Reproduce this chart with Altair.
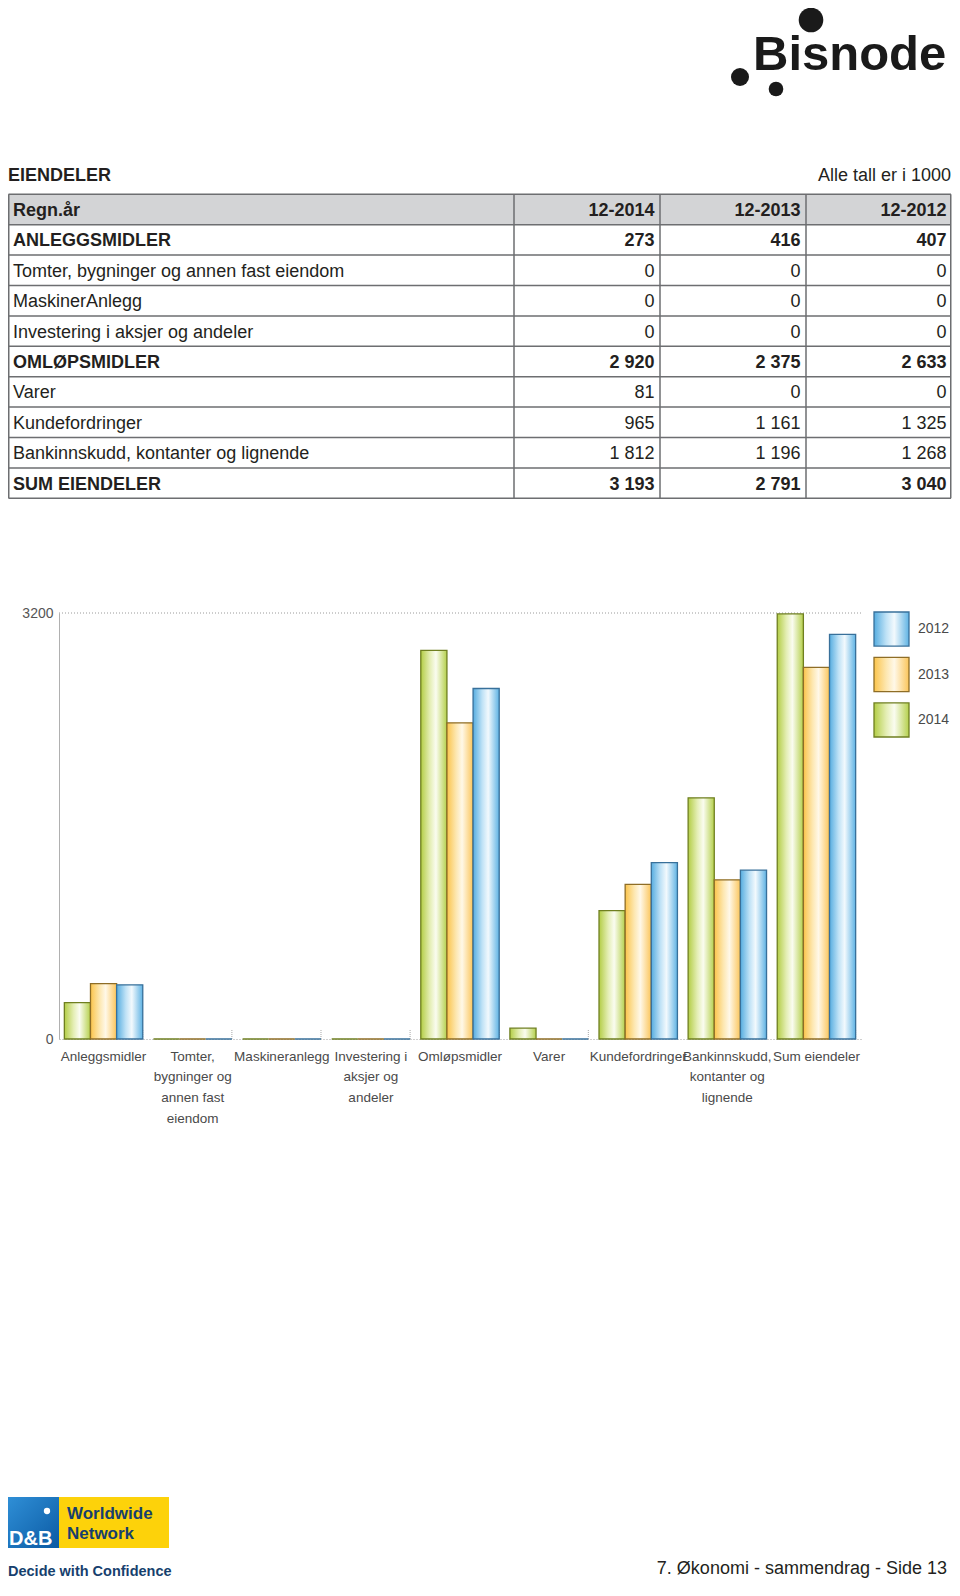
import altair as alt
import pandas as pd

# ---------------- data ----------------
table_labels = ["ANLEGGSMIDLER", "Tomter, bygninger og annen fast eiendom", "MaskinerAnlegg",
                "Investering i aksjer og andeler", "OMLØPSMIDLER", "Varer", "Kundefordringer",
                "Bankinnskudd, kontanter og lignende", "SUM EIENDELER"]
table_bold = [True, False, False, False, True, False, False, False, True]
header_cols = ["12-2014", "12-2013", "12-2012"]
v2014 = [273, 0, 0, 0, 2920, 81, 965, 1812, 3193]
v2013 = [416, 0, 0, 0, 2375, 0, 1161, 1196, 2791]
v2012 = [407, 0, 0, 0, 2633, 0, 1325, 1268, 3040]

chart_cats = ["Anleggsmidler", "Tomter,|bygninger og|annen fast|eiendom", "Maskineranlegg",
              "Investering i|aksjer og|andeler", "Omløpsmidler", "Varer", "Kundefordringer",
              "Bankinnskudd,|kontanter og|lignende", "Sum eiendeler"]
years = ["2014", "2013", "2012"]
legend_years = ["2012", "2013", "2014"]
y_ticks = [0, 3200]

FONT = "Liberation Sans"
W, H = 944, 1572


def fmt(v):
    return f"{v:,}".replace(",", " ")


# ---------------- table ----------------
rows = [{"r": 0, "label": "Regn.år", "bold": True}]
nums = []
for c, h in enumerate(header_cols):
    nums.append({"r": 0, "c": c, "txt": h, "bold": True})
for i, lab in enumerate(table_labels):
    rows.append({"r": i + 1, "label": lab, "bold": table_bold[i]})
    for c, vals in enumerate([v2014, v2013, v2012]):
        nums.append({"r": i + 1, "c": c, "txt": fmt(vals[i]), "bold": table_bold[i]})
df_rows = pd.DataFrame(rows)
df_nums = pd.DataFrame(nums)
df_hlines = pd.DataFrame({"k": list(range(11))})
df_span = pd.DataFrame({"a": [0], "b": [10], "h": [1]})

TY = alt.Scale(domain=[0, 10], range=[186.3, 490.3], nice=False, zero=False)
TX = alt.Scale(domain=[0, 2], range=[646.5, 938.5], nice=False, zero=False)
LINE = "#6d6e71"

hdr_bg = alt.Chart(df_span).mark_rect(color="#d3d4d6").encode(
    x=alt.value(0.5), x2=alt.value(943),
    y=alt.Y("a:Q", scale=TY, axis=None), y2="h:Q")
hlines = alt.Chart(df_hlines).mark_rule(color=LINE, strokeWidth=1.5).encode(
    x=alt.value(0.5), x2=alt.value(943), y=alt.Y("k:Q", scale=TY, axis=None))
vlines = [alt.Chart(df_span).mark_rule(color=LINE, strokeWidth=1.5).encode(
    x=alt.value(px), y=alt.Y("a:Q", scale=TY, axis=None), y2="b:Q")
    for px in [0.75, 506, 652, 798, 942.75]]


def row_text(bold):
    return alt.Chart(df_rows).transform_filter(
        alt.datum.bold == bold).transform_calculate(mid="datum.r + 0.5").mark_text(
        align="left", baseline="alphabetic", dy=6.5, font=FONT, fontSize=18,
        fontWeight="bold" if bold else "normal", color="#231f20").encode(
        x=alt.value(5), y=alt.Y("mid:Q", scale=TY, axis=None), text="label:N")


def num_text(bold):
    return alt.Chart(df_nums).transform_filter(
        alt.datum.bold == bold).transform_calculate(mid="datum.r + 0.5").mark_text(
        align="right", baseline="alphabetic", dy=6.5, font=FONT, fontSize=18,
        fontWeight="bold" if bold else "normal", color="#231f20").encode(
        x=alt.X("c:Q", scale=TX, axis=None), y=alt.Y("mid:Q", scale=TY, axis=None),
        text="txt:N")


table = alt.layer(hdr_bg, row_text(True), row_text(False), num_text(True), num_text(False),
                  hlines, *vlines)

one = pd.DataFrame({"t": ["x"]})
title_l = alt.Chart(pd.DataFrame({"t": ["EIENDELER"]})).mark_text(
    align="left", baseline="alphabetic", font=FONT, fontSize=18, fontWeight="bold",
    color="#231f20").encode(x=alt.value(0), y=alt.value(173), text="t:N")
title_r = alt.Chart(pd.DataFrame({"t": ["Alle tall er i 1000"]})).mark_text(
    align="right", baseline="alphabetic", font=FONT, fontSize=18, color="#231f20").encode(
    x=alt.value(943), y=alt.value(173), text="t:N")

# ---------------- bar chart ----------------
long = []
for i, cat in enumerate(chart_cats):
    for y, vals in zip(years, [v2014, v2013, v2012]):
        long.append({"cat": cat, "year": y, "value": vals[i]})
df_long = pd.DataFrame(long)
df_cats = pd.DataFrame({"cat": chart_cats})

XS = alt.Scale(domain=chart_cats, range=[51, 853], paddingInner=0.12, paddingOuter=0.06)
YS = alt.Scale(domain=[0, 3200], range=[1031, 605], nice=False, zero=True)
XOFF = alt.Scale(domain=years, paddingInner=0, paddingOuter=0)

x_axis = alt.Axis(orient="bottom", offset=-(H - 1031), title=None, ticks=False, tickSize=0,
                  domainColor="#a0a0a0", domainDash=[1, 2], domainWidth=1,
                  labelExpr="split(datum.label, '|')", labelFont=FONT, labelFontSize=13.5,
                  labelColor="#4a4a4a", labelLineHeight=20.7, labelPadding=10,
                  labelOverlap=False, labelAngle=0, labelBaseline="top", labelLimit=300)
y_axis = alt.Axis(orient="left", offset=-51, values=y_ticks, format="d", title=None, grid=False,
                  ticks=False, tickSize=0, domainColor="#b0b0b0", domainWidth=1,
                  labelFont=FONT, labelFontSize=14, labelColor="#555555", labelPadding=6)

grad = {
    "2014": (["#b3cd45", "#e4eeb4", "#fafcf0", "#b5d04c"], "#6f7f20"),
    "2013": (["#fbc44b", "#fde7b0", "#fff8e8", "#fbc55a"], "#8e6d26"),
    "2012": (["#56ade0", "#bfe2f6", "#f2f9fd", "#5fb3e4"], "#38709a"),
}


def lg(cols):
    return alt.LinearGradient(gradient="linear", x1=0, x2=1, y1=0, y2=0, stops=[
        alt.GradientStop(offset=o, color=c) for o, c in zip([0, 0.35, 0.58, 1], cols)])


bar_layers = []
for y in years:
    cols, stroke = grad[y]
    bar_layers.append(alt.Chart(df_long).transform_filter(alt.datum.year == y).mark_bar(
        color=lg(cols), stroke=stroke, strokeWidth=1.3).encode(
        x=alt.X("cat:N", scale=XS, axis=x_axis, sort=chart_cats),
        xOffset=alt.XOffset("year:N", scale=XOFF),
        y=alt.Y("value:Q", scale=YS, axis=y_axis)))

band_ticks = alt.Chart(df_cats).mark_rule(color="#a8a8a8", strokeDash=[1, 1]).encode(
    x=alt.X("cat:N", scale=XS, axis=x_axis, sort=chart_cats, bandPosition=1),
    y=alt.Y("y0:Q", scale=YS, axis=y_axis), y2="y1:Q").transform_calculate(y0="0", y1="75")

grid = alt.Chart(pd.DataFrame({"g": [3200]})).mark_rule(
    color="#9a9a9a", strokeDash=[1, 2], strokeWidth=1).encode(
    x=alt.value(51), x2=alt.value(854), y=alt.Y("g:Q", scale=YS, axis=y_axis))

bars = alt.layer(grid, band_ticks, *bar_layers)

# ---------------- legend ----------------
LY = alt.Scale(domain=legend_years, range=[604, 729], paddingInner=0.25, paddingOuter=0)
leg_layers = []
df_leg = pd.DataFrame({"year": legend_years})
for y in legend_years:
    cols, stroke = grad[y]
    leg_layers.append(alt.Chart(df_leg).transform_filter(alt.datum.year == y).mark_rect(
        color=lg(cols), stroke=stroke, strokeWidth=1.3).encode(
        x=alt.value(866), x2=alt.value(901), y=alt.Y("year:N", scale=LY, axis=None)))
leg_text = alt.Chart(df_leg).mark_text(align="left", baseline="middle", font=FONT,
                                       fontSize=14, color="#4a4a4a").encode(
    x=alt.value(910), y=alt.Y("year:N", scale=LY, axis=None), text="year:N")
legend = alt.layer(*leg_layers, leg_text)

# ---------------- logo (top) ----------------
logo_text = alt.Chart(pd.DataFrame({"t": ["Bisnode"]})).mark_text(
    align="left", baseline="alphabetic", font=FONT, fontSize=49, fontWeight="bold",
    color="#1a1a1a").encode(x=alt.value(745), y=alt.value(62), text="t:N")
dots = [alt.Chart(one).mark_circle(color="#1a1a1a", opacity=1, size=s).encode(
    x=alt.value(cx), y=alt.value(cy)) for cx, cy, s in [(803, 12, 605), (732, 69, 324), (768, 81, 213)]]

# ---------------- footer ----------------
FY = 1489
blue = alt.Chart(one).mark_rect(color=alt.LinearGradient(
    gradient="linear", x1=0, x2=1, y1=0, y2=1,
    stops=[alt.GradientStop(offset=0, color="#2f8fd6"), alt.GradientStop(offset=1, color="#0b5aa3")])).encode(
    x=alt.value(0), x2=alt.value(51), y=alt.value(FY), y2=alt.value(FY + 51))
yellow = alt.Chart(one).mark_rect(color="#fdd20a").encode(
    x=alt.value(51), x2=alt.value(161), y=alt.value(FY), y2=alt.value(FY + 51))
wdot = alt.Chart(one).mark_circle(color="white", opacity=1, size=40).encode(
    x=alt.value(39), y=alt.value(FY + 14))
dnb = alt.Chart(pd.DataFrame({"t": ["D&B"]})).mark_text(
    align="left", baseline="alphabetic", font=FONT, fontSize=20, fontWeight="bold",
    color="white").encode(x=alt.value(1), y=alt.value(FY + 48), text="t:N")
ww1 = alt.Chart(pd.DataFrame({"t": ["Worldwide"]})).mark_text(
    align="left", baseline="alphabetic", font=FONT, fontSize=17, fontWeight="bold",
    color="#173f6e").encode(x=alt.value(59), y=alt.value(FY + 22), text="t:N")
ww2 = alt.Chart(pd.DataFrame({"t": ["Network"]})).mark_text(
    align="left", baseline="alphabetic", font=FONT, fontSize=17, fontWeight="bold",
    color="#173f6e").encode(x=alt.value(59), y=alt.value(FY + 42), text="t:N")
decide = alt.Chart(pd.DataFrame({"t": ["Decide with Confidence"]})).mark_text(
    align="left", baseline="alphabetic", font=FONT, fontSize=14.5, fontWeight="bold",
    color="#173f6e").encode(x=alt.value(0), y=alt.value(1568), text="t:N")
page = alt.Chart(pd.DataFrame({"t": ["7. Økonomi - sammendrag - Side 13"]})).mark_text(
    align="right", baseline="alphabetic", font=FONT, fontSize=18, color="#231f20").encode(
    x=alt.value(939), y=alt.value(1566), text="t:N")

chart = alt.layer(
    table, title_l, title_r, bars, legend, logo_text, *dots,
    blue, yellow, wdot, dnb, ww1, ww2, decide, page
).resolve_scale(x="independent", y="independent").properties(
    width=W, height=H, padding=0, autosize=alt.AutoSizeParams(type="none")
).configure_view(stroke=None)

chart.save("out.html", embed_options={"renderer": "svg", "actions": False})
